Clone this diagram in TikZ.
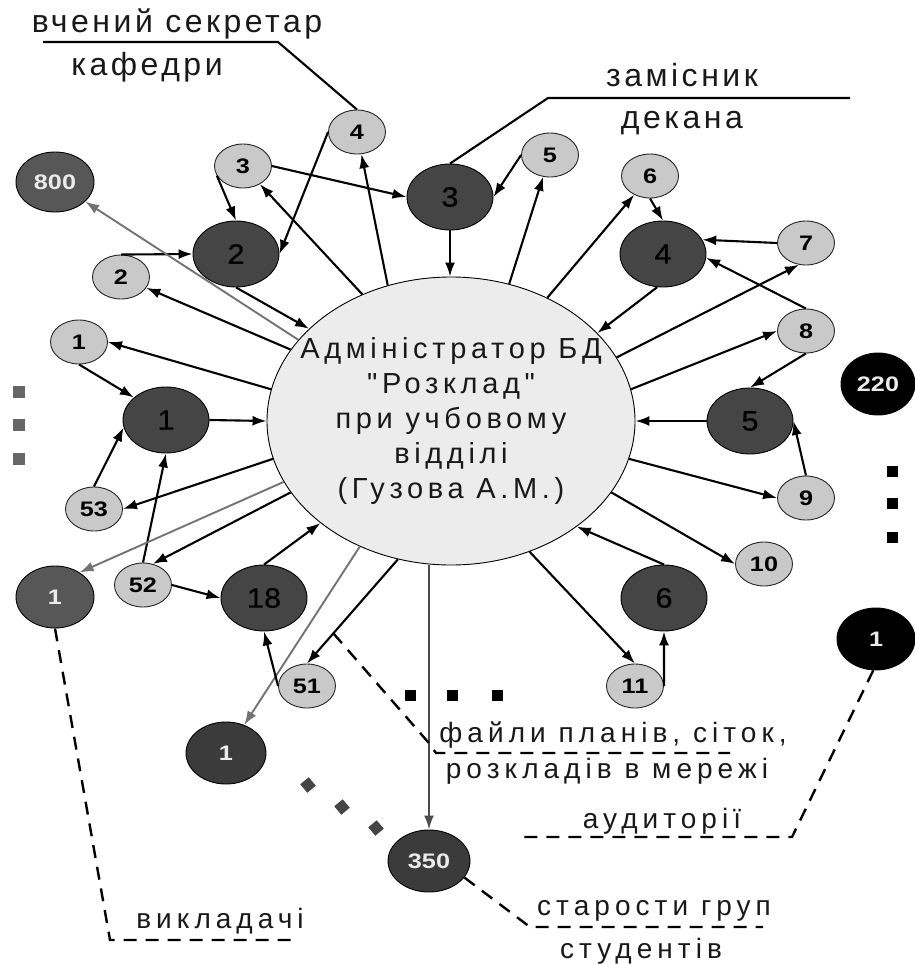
\documentclass[tikz,border=0pt]{standalone}
\usepackage{fontspec}
\setmainfont{Liberation Sans}
\newfontfamily\toplbl{Liberation Sans}[LetterSpace=11]
\newfontfamily\botlbl{Liberation Sans}[LetterSpace=18]
\newfontfamily\ctrlbl{Liberation Sans}[LetterSpace=16]
\newfontfamily\numbold{Liberation Sans}[FakeStretch=1.2]
\newfontfamily\numreg{Liberation Sans}[FakeStretch=1.1,FakeBold=0.6]
\usetikzlibrary{shapes.geometric,arrows.meta}
\definecolor{darknode}{gray}{0.27}
\definecolor{lightnode}{gray}{0.79}
\definecolor{centerfill}{gray}{0.925}
\definecolor{midnode}{gray}{0.34}
\definecolor{deepnode}{gray}{0.23}
\definecolor{arrowgray}{gray}{0.45}
\definecolor{dotgray}{gray}{0.4}
\definecolor{textgray}{gray}{0.1}
\tikzset{
  lnode/.style={ellipse, draw=black!85, line width=0.9pt, fill=lightnode,
    minimum width=57pt, minimum height=44pt, inner sep=0pt,
    font=\numbold\bfseries\fontsize{21}{21}\selectfont},
  dnode/.style={ellipse, draw=black, line width=0.9pt, fill=darknode,
    minimum width=86pt, minimum height=66pt, inner sep=0pt,
    font=\numreg\fontsize{28}{28}\selectfont},
  wnode/.style={ellipse, draw=black, line width=0.9pt, text=white!92!black,
    minimum width=79pt, minimum height=62pt, inner sep=0pt,
    font=\numbold\bfseries\fontsize{21}{21}\selectfont},
  conn/.style={line width=2.1pt, -{Latex[length=14pt,width=10pt]}},
  gconn/.style={conn, draw=arrowgray, line width=1.9pt},
  plainline/.style={line width=2.1pt},
  dashline/.style={line width=2.4pt, dash pattern=on 13pt off 9pt},
  sqdot/.style={rectangle, minimum size=11pt, inner sep=0pt, draw=none},
  toplabel/.style={font=\toplbl\fontsize{32}{36}\selectfont, inner sep=0pt, text=textgray},
  botlabel/.style={font=\botlbl\fontsize{28}{32}\selectfont, inner sep=0pt, text=textgray}
}
\begin{document}
\begin{tikzpicture}[x=1pt,y=-1pt]
\useasboundingbox (0,0) rectangle (915,964);

% centre
\node[ellipse, draw=black, line width=0.9pt, fill=centerfill,
  minimum width=368pt, minimum height=288pt, inner sep=0pt] (C) at (451,421) {};
\node[align=center, inner sep=0pt, text=textgray,
  font=\ctrlbl\fontsize{29}{35}\selectfont] (Ctxt) at (C.center)
  {Адміністратор БД\\"Розклад"\\при учбовому\\відділі\\(Гузова А.М.)};

% dark nodes
\node[dnode] (D3) at (450,197) {3};
\node[dnode] (D2) at (236,254) {2};
\node[dnode] (D4) at (663,254) {4};
\node[dnode] (D1) at (166,420) {1};
\node[dnode] (D5) at (750,421) {5};
\node[dnode] (D18) at (264,598) {18};
\node[dnode] (D6) at (664,598) {6};

% white-text nodes
\node[wnode, fill=midnode, minimum width=78pt, minimum height=60pt] (N800) at (55,182) {800};
\node[wnode, fill=midnode, minimum width=78pt, minimum height=62pt] (LG1) at (55,597) {1};
\node[wnode, fill=deepnode, minimum width=80pt, minimum height=62pt] (B1) at (226,753) {1};
\node[wnode, fill=deepnode, minimum width=82pt, minimum height=62pt] (N350) at (429,861) {350};
\node[wnode, fill=black, minimum width=74pt, minimum height=62pt] (N220) at (878,384) {220};
\node[wnode, fill=black, minimum width=78pt, minimum height=62pt] (RB1) at (876,639) {1};

% light nodes
\node[lnode] (L4) at (357,132) {4};
\node[lnode] (L3) at (243,166) {3};
\node[lnode] (L2) at (121,277) {2};
\node[lnode] (L5) at (550,155) {5};
\node[lnode] (L6) at (650,176) {6};
\node[lnode] (L7) at (806,243) {7};
\node[lnode] (L8) at (806,331) {8};
\node[lnode] (L9) at (806,498) {9};
\node[lnode] (L10) at (764,564) {10};
\node[lnode] (L11) at (635,686) {11};
\node[lnode] (L1) at (79,342) {1};
\node[lnode] (L53) at (94,509) {53};
\node[lnode] (L52) at (143,585) {52};
\node[lnode] (L51) at (307,686) {51};

% connectors, top left
\draw[conn] (L3.east) -- (D3.west);
\draw[conn] (L3.200) -- (D2.north);
\draw[conn] (L4.west) -- (D2.east);
\draw[conn] (C.115) -- (L4);
\draw[conn] (C.125) -- (L3);
\draw[conn] (D2.south) -- (C.147);
\draw[conn] (C.156) -- (L2);
\draw[conn] (L2.north) -- (D2.west);
\draw[gconn] (C.152) -- (N800);

% top right
\draw[conn] (D3.south) -- (D3.south |- C.north);
\draw[conn] (L5.west) -- (D3.east);
\draw[conn] (C.67) -- (L5);
\draw[conn] (C.52) -- (L6);
\draw[conn] (L6.south) -- (D4.north);
\draw[conn] (L7.west) -- (D4.20);
\draw[conn] (D4.-100) -- (C.31);
\draw[conn] (C.21) -- (L7.-108);
\draw[conn] (L8.north) -- (D4.-5);
\draw[conn] (C.10) -- (L8.west);
\draw[conn] (L8.south) -- (D5.north);
\draw[conn] (D5.west) -- (C.east);
\draw[conn] (L9.north) -- (D5.east);
\draw[conn] (C.-12) -- (L9.west);
\draw[conn] (C.-24) -- (L10.west);
\draw[conn] (D6.north) -- (C.-40);
\draw[conn] (C.-59) -- (L11.north);
\draw[conn] (L11.east) -- (D6.south);

% bottom
\draw[gconn, draw=gray!60!black, line width=2.2pt] (C.south -| N350.north) -- (N350.north);
\draw[gconn] (C.-126) -- (B1);
\draw[conn] (C.-111) -- coordinate[pos=0.71] (fstart) (L51.north);
\draw[conn] (L51.west) -- (D18.south);
\draw[conn] (D18.north) -- (C.-142.5);
\draw[conn] (L52.east) -- (D18.west);
\draw[conn] (C.-156) -- (L52.65);
\draw[conn] (L52.north) -- (D1.south);
\draw[conn] (C.-168) -- (L53.east);
\draw[conn] (L53.north) -- (D1.-170);
\draw[conn] (L1.south) -- (D1.145);
\draw[conn] (C.170) -- (L1.east);
\draw[conn] (D1.east) -- (C.west);
\draw[gconn] (C.-160) -- (LG1.45);

% label leader lines
\coordinate (sekA) at (43,42);
\coordinate (sekB) at (278,42);
\draw[plainline] (sekA) -- (sekB) -- (L4.north);
\coordinate (zamA) at (548,98);
\coordinate (zamB) at (850,98);
\draw[plainline] (D3.north) -- (zamA) -- (zamB);
\coordinate (vykA) at (110,940);
\coordinate (vykB) at (293,940);
\draw[dashline] (LG1.south) -- (vykA) -- (vykB);
\coordinate (audA) at (792,837);
\coordinate (audB) at (522,837);
\draw[dashline] (RB1.-95) -- (audA) -- (audB);
\coordinate (starA) at (530,927);
\coordinate (starB) at (763,927);
\draw[dashline] (N350.-25) -- (starA) -- (starB);
\coordinate (fA) at (428,742);
\coordinate (fB) at (436,753);
\coordinate (fC) at (730,753);
\draw[dashline] (fstart) -- (fA) -- (fB) -- (fC);

% dots
\foreach \i/\yy in {1/392,2/425,3/459}
  \node[sqdot, fill=dotgray, minimum size=12pt] (ldot\i) at (19,\yy) {};
\foreach \i/\yy in {1/471,2/503,3/537}
  \node[sqdot, fill=black] (rdot\i) at (892,\yy) {};
\foreach \i/\xx in {1/410,2/452,3/497}
  \node[sqdot, fill=black] (bdot\i) at (\xx,695) {};
\foreach \i/\xx/\yy in {1/308/785,2/342/807,3/376/828}
  \node[sqdot, fill=darknode, rotate=40] (ddot\i) at (\xx,\yy) {};

% labels
\node[toplabel, anchor=base] (tSek) at (177,32) {вчений секретар};
\node[toplabel, anchor=base] (tKaf) at (147,75) {кафедри};
\node[toplabel, anchor=base] (tZam) at (682,86) {замісник};
\node[toplabel, anchor=base] (tDek) at (682,128) {декана};
\node[botlabel, anchor=base] (tFai) at (613,742) {файли планів, сіток,};
\node[botlabel, anchor=base] (tRoz) at (607,778) {розкладів в мережі};
\node[botlabel, anchor=base] (tAud) at (662,828) {аудиторії};
\node[botlabel, anchor=base] (tSta) at (654,915) {старости груп};
\node[botlabel, anchor=base] (tStu) at (641,958) {студентів};
\node[botlabel, anchor=base] (tVyk) at (220,928) {викладачі};
\end{tikzpicture}
\end{document}
